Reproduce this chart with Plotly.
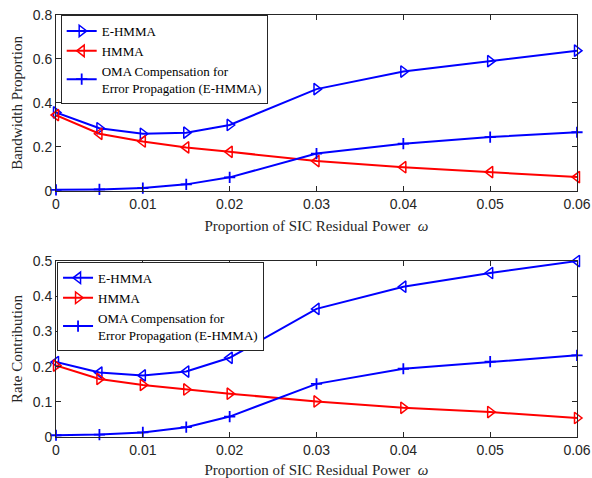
import plotly.graph_objects as go

omega = [0, 0.005, 0.01, 0.015, 0.02, 0.03, 0.04, 0.05, 0.06]

bw_ehmma = [0.357, 0.285, 0.260, 0.265, 0.300, 0.463, 0.543, 0.590, 0.638]
bw_hmma = [0.345, 0.260, 0.225, 0.198, 0.178, 0.136, 0.108, 0.086, 0.063]
bw_oma = [0.005, 0.007, 0.013, 0.030, 0.062, 0.170, 0.215, 0.245, 0.267]

rc_ehmma = [0.213, 0.183, 0.175, 0.186, 0.225, 0.364, 0.427, 0.466, 0.500]
rc_hmma = [0.203, 0.165, 0.148, 0.135, 0.123, 0.101, 0.083, 0.071, 0.054]
rc_oma = [0.005, 0.007, 0.013, 0.028, 0.058, 0.151, 0.194, 0.214, 0.232]

x_ticks = [0, 0.01, 0.02, 0.03, 0.04, 0.05, 0.06]
x_ticklabels = ["0", "0.01", "0.02", "0.03", "0.04", "0.05", "0.06"]
y1_ticks = [0, 0.2, 0.4, 0.6, 0.8]
y1_ticklabels = ["0", "0.2", "0.4", "0.6", "0.8"]
y2_ticks = [0, 0.1, 0.2, 0.3, 0.4, 0.5]
y2_ticklabels = ["0", "0.1", "0.2", "0.3", "0.4", "0.5"]

oma_name = "OMA Compensation for<br>Error Propagation (E-HMMA)"

BLUE = "#0000FF"
RED = "#FF0000"
SERIF = "Liberation Serif, Times New Roman, serif"
SANS = "Liberation Sans, Arial, sans-serif"

fig = go.Figure()

def add(x, y, name, color, symbol, xa, ya, legend):
    if symbol == "cross-thin":
        marker = dict(symbol="cross-thin", size=8, line=dict(color=color, width=1.8), color=color)
    else:
        marker = dict(symbol=symbol, size=10, color=color, line=dict(color=color, width=1.5))
    fig.add_trace(go.Scatter(x=x, y=y, name=name, mode="lines+markers",
                             line=dict(color=color, width=2), marker=marker,
                             xaxis=xa, yaxis=ya, legend=legend, cliponaxis=False))

add(omega, bw_ehmma, "E-HMMA", BLUE, "triangle-right-open", "x", "y", "legend")
add(omega, bw_hmma, "HMMA", RED, "triangle-left-open", "x", "y", "legend")
add(omega, bw_oma, oma_name, BLUE, "cross-thin", "x", "y", "legend")

add(omega, rc_ehmma, "E-HMMA", BLUE, "triangle-left-open", "x2", "y2", "legend2")
add(omega, rc_hmma, "HMMA", RED, "triangle-right-open", "x2", "y2", "legend2")
add(omega, rc_oma, oma_name, BLUE, "cross-thin", "x2", "y2", "legend2")

axis_common = dict(showgrid=False, zeroline=False, showline=True, linecolor="#262626",
                   linewidth=1, mirror="ticks", ticks="inside", ticklen=5, automargin=False,
                   tickcolor="#262626", tickfont=dict(family=SANS, size=14, color="#262626"))

xtitle = dict(text="Proportion of SIC Residual Power  <i>ω</i>",
              font=dict(family=SERIF, size=15, color="#262626"), standoff=9)

legend_common = dict(xanchor="left", yanchor="top", xref="paper", yref="paper",
                     bgcolor="white", bordercolor="#262626", borderwidth=1,
                     font=dict(family=SERIF, size=13, color="black"), tracegroupgap=0,
                     itemwidth=30)

fig.update_layout(
    width=592, height=478,
    margin=dict(l=56, r=15, t=15, b=41),
    paper_bgcolor="white", plot_bgcolor="white",
    xaxis=dict(domain=[0, 1], range=[0, 0.06], tickvals=x_ticks, ticktext=x_ticklabels,
               anchor="y", title=xtitle, **axis_common),
    yaxis=dict(domain=[0.583, 1], range=[0, 0.8], tickvals=y1_ticks, ticktext=y1_ticklabels,
               anchor="x", title=dict(text="Bandwidth Proportion", standoff=6,
                                      font=dict(family=SERIF, size=15, color="#262626")),
               **axis_common),
    xaxis2=dict(domain=[0, 1], range=[0, 0.06], tickvals=x_ticks, ticktext=x_ticklabels,
                anchor="y2", title=xtitle, **axis_common),
    yaxis2=dict(domain=[0, 0.417], range=[0, 0.5], tickvals=y2_ticks, ticktext=y2_ticklabels,
                anchor="x2", title=dict(text="Rate Contribution", standoff=6,
                                        font=dict(family=SERIF, size=15, color="#262626")),
                **axis_common),
    legend=dict(x=0.009, y=1.0, **legend_common),
    legend2=dict(x=0.002, y=0.415, **legend_common),
)

fig.write_html("out.html")
